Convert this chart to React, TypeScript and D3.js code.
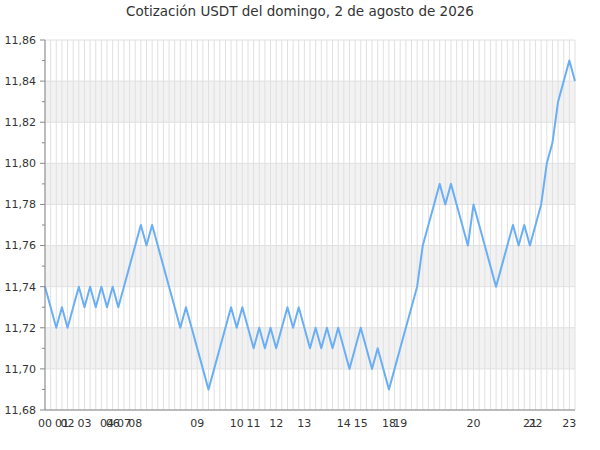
import React from 'react';
import * as d3 from 'd3';

const title = 'Cotización USDT del domingo, 2 de agosto de 2026';

// price per quote, in order (evenly spaced on the x axis)
const values = [
  11.74, 11.73, 11.72, 11.73, 11.72, 11.73, 11.74, 11.73, 11.74, 11.73,
  11.74, 11.73, 11.74, 11.73, 11.74, 11.75, 11.76, 11.77, 11.76, 11.77,
  11.76, 11.75, 11.74, 11.73, 11.72, 11.73, 11.72, 11.71, 11.70, 11.69,
  11.70, 11.71, 11.72, 11.73, 11.72, 11.73, 11.72, 11.71, 11.72, 11.71,
  11.72, 11.71, 11.72, 11.73, 11.72, 11.73, 11.72, 11.71, 11.72, 11.71,
  11.72, 11.71, 11.72, 11.71, 11.70, 11.71, 11.72, 11.71, 11.70, 11.71,
  11.70, 11.69, 11.70, 11.71, 11.72, 11.73, 11.74, 11.76, 11.77, 11.78,
  11.79, 11.78, 11.79, 11.78, 11.77, 11.76, 11.78, 11.77, 11.76, 11.75,
  11.74, 11.75, 11.76, 11.77, 11.76, 11.77, 11.76, 11.77, 11.78, 11.80,
  11.81, 11.83, 11.84, 11.85, 11.84,
];

// hour labels and the quote where each hour starts
const hourLabels = ['00', '01', '02', '03', '04', '06', '07', '08', '09', '10', '11',
  '12', '13', '14', '15', '18', '19', '20', '21', '22', '23'];
const hourStart = [0, 3, 4, 7, 11, 12, 14, 16, 27, 34, 37, 41, 46, 53, 56, 61, 63, 76, 86, 87, 93];

const yMin = 11.68;
const yMax = 11.86;

export default function App() {
  const width = 600;
  const height = 450;
  const margin = { top: 40, right: 25, bottom: 40, left: 45 };
  const innerW = width - margin.left - margin.right;
  const innerH = height - margin.top - margin.bottom;

  const x = d3.scaleLinear().domain([0, values.length - 1]).range([0, innerW]);
  const y = d3.scaleLinear().domain([yMin, yMax]).range([innerH, 0]);

  const majorTicks = d3.range(0, 10).map(i => +(yMin + i * 0.02).toFixed(2));
  const minorTicks = d3.range(0, 9).map(i => +(yMin + 0.01 + i * 0.02).toFixed(2));
  const bands = majorTicks.filter((_, i) => i % 2 === 1 && i < majorTicks.length - 1);

  const line = d3.line<number>()
    .x((_, i) => x(i))
    .y(d => y(d));

  const fmt = (v: number) => v.toFixed(2).replace('.', ',');
  const font = '"DejaVu Sans", sans-serif';

  return (
    <div style={{ position: 'absolute', left: 0, top: 0 }}>
      <svg width={width} height={height} style={{ display: 'block', background: '#fff' }}>
        <text x={width / 2} y={16} textAnchor="middle" fontFamily={font} fontSize={13.5} fill="#333">
          {title}
        </text>
        <g transform={`translate(${margin.left},${margin.top})`}>
          {bands.map(b => (
            <rect key={b} x={0} y={y(b + 0.02)} width={innerW} height={y(b) - y(b + 0.02)} fill="#f2f2f2" />
          ))}
          {values.map((_, i) => (
            <line key={i} x1={x(i)} x2={x(i)} y1={0} y2={innerH} stroke="#e0e0e0" strokeWidth={1} />
          ))}
          {majorTicks.map(t => (
            <line key={t} x1={0} x2={innerW} y1={y(t)} y2={y(t)} stroke="#e0e0e0" strokeWidth={1} />
          ))}
          <path d={line(values) || ''} fill="none" stroke="#6aaff5" strokeWidth={2} strokeLinejoin="round" />

          <line x1={0} x2={0} y1={0} y2={innerH} stroke="#888" />
          <line x1={0} x2={innerW} y1={innerH} y2={innerH} stroke="#888" />
          {majorTicks.map(t => (
            <g key={t} transform={`translate(0,${y(t)})`}>
              <line x1={-5} x2={0} stroke="#888" />
              <text x={-9} dy="0.35em" textAnchor="end" fontFamily={font} fontSize={11} fill="#333">
                {fmt(t)}
              </text>
            </g>
          ))}
          {minorTicks.map(t => (
            <line key={t} x1={-3} x2={0} y1={y(t)} y2={y(t)} stroke="#888" />
          ))}
          {hourLabels.map((h, k) => (
            <text key={h} x={x(hourStart[k])} y={innerH + 17} textAnchor="middle"
              fontFamily={font} fontSize={11} fill="#333">
              {h}
            </text>
          ))}
        </g>
      </svg>
    </div>
  );
}
